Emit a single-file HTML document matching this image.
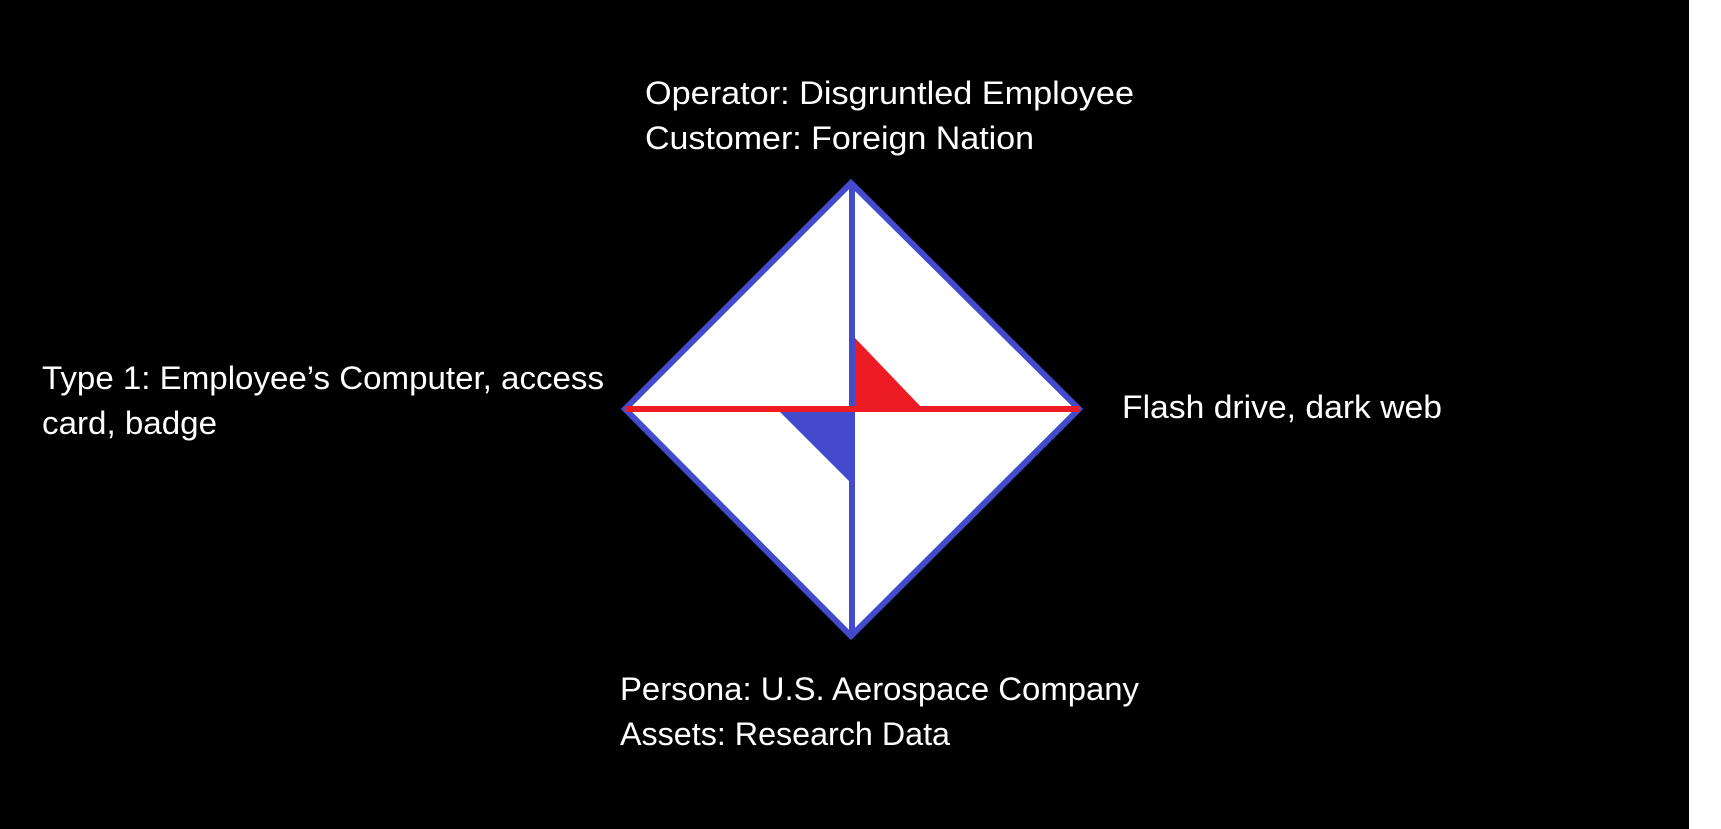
<!DOCTYPE html>
<html><head><meta charset="utf-8"><style>
html,body{margin:0;padding:0;background:#fff;}
svg{display:block;}
text{font-family:"Liberation Sans",sans-serif;font-size:32px;fill:#fff;}
</style></head><body>
<svg width="1721" height="829" viewBox="0 0 1721 829">
<rect x="0" y="0" width="1689" height="829" fill="#000"/>
<polygon points="851,183 1079,409 851,636 625,409" fill="#fff" stroke="#434bcc" stroke-width="6" stroke-linejoin="miter"/>
<polygon points="855,338 855,409 923,409" fill="#ed1c24"/>
<polygon points="780,412 850,412 850,482" fill="#434bcc"/>
<line x1="852" y1="183" x2="852" y2="636" stroke="#434bcc" stroke-width="6"/>
<line x1="625" y1="409" x2="1080" y2="409" stroke="#ed1c24" stroke-width="6"/>
<text x="645" y="104" textLength="489" lengthAdjust="spacingAndGlyphs">Operator: Disgruntled Employee</text>
<text x="645" y="149" textLength="389" lengthAdjust="spacingAndGlyphs">Customer: Foreign Nation</text>
<text x="42" y="389" textLength="562" lengthAdjust="spacingAndGlyphs">Type 1: Employee’s Computer, access</text>
<text x="42" y="434" textLength="175" lengthAdjust="spacingAndGlyphs">card, badge</text>
<text x="1122" y="418" textLength="320" lengthAdjust="spacingAndGlyphs">Flash drive, dark web</text>
<text x="620" y="700" textLength="519" lengthAdjust="spacingAndGlyphs">Persona: U.S. Aerospace Company</text>
<text x="620" y="745" textLength="330" lengthAdjust="spacingAndGlyphs">Assets: Research Data</text>
</svg>
</body></html>
